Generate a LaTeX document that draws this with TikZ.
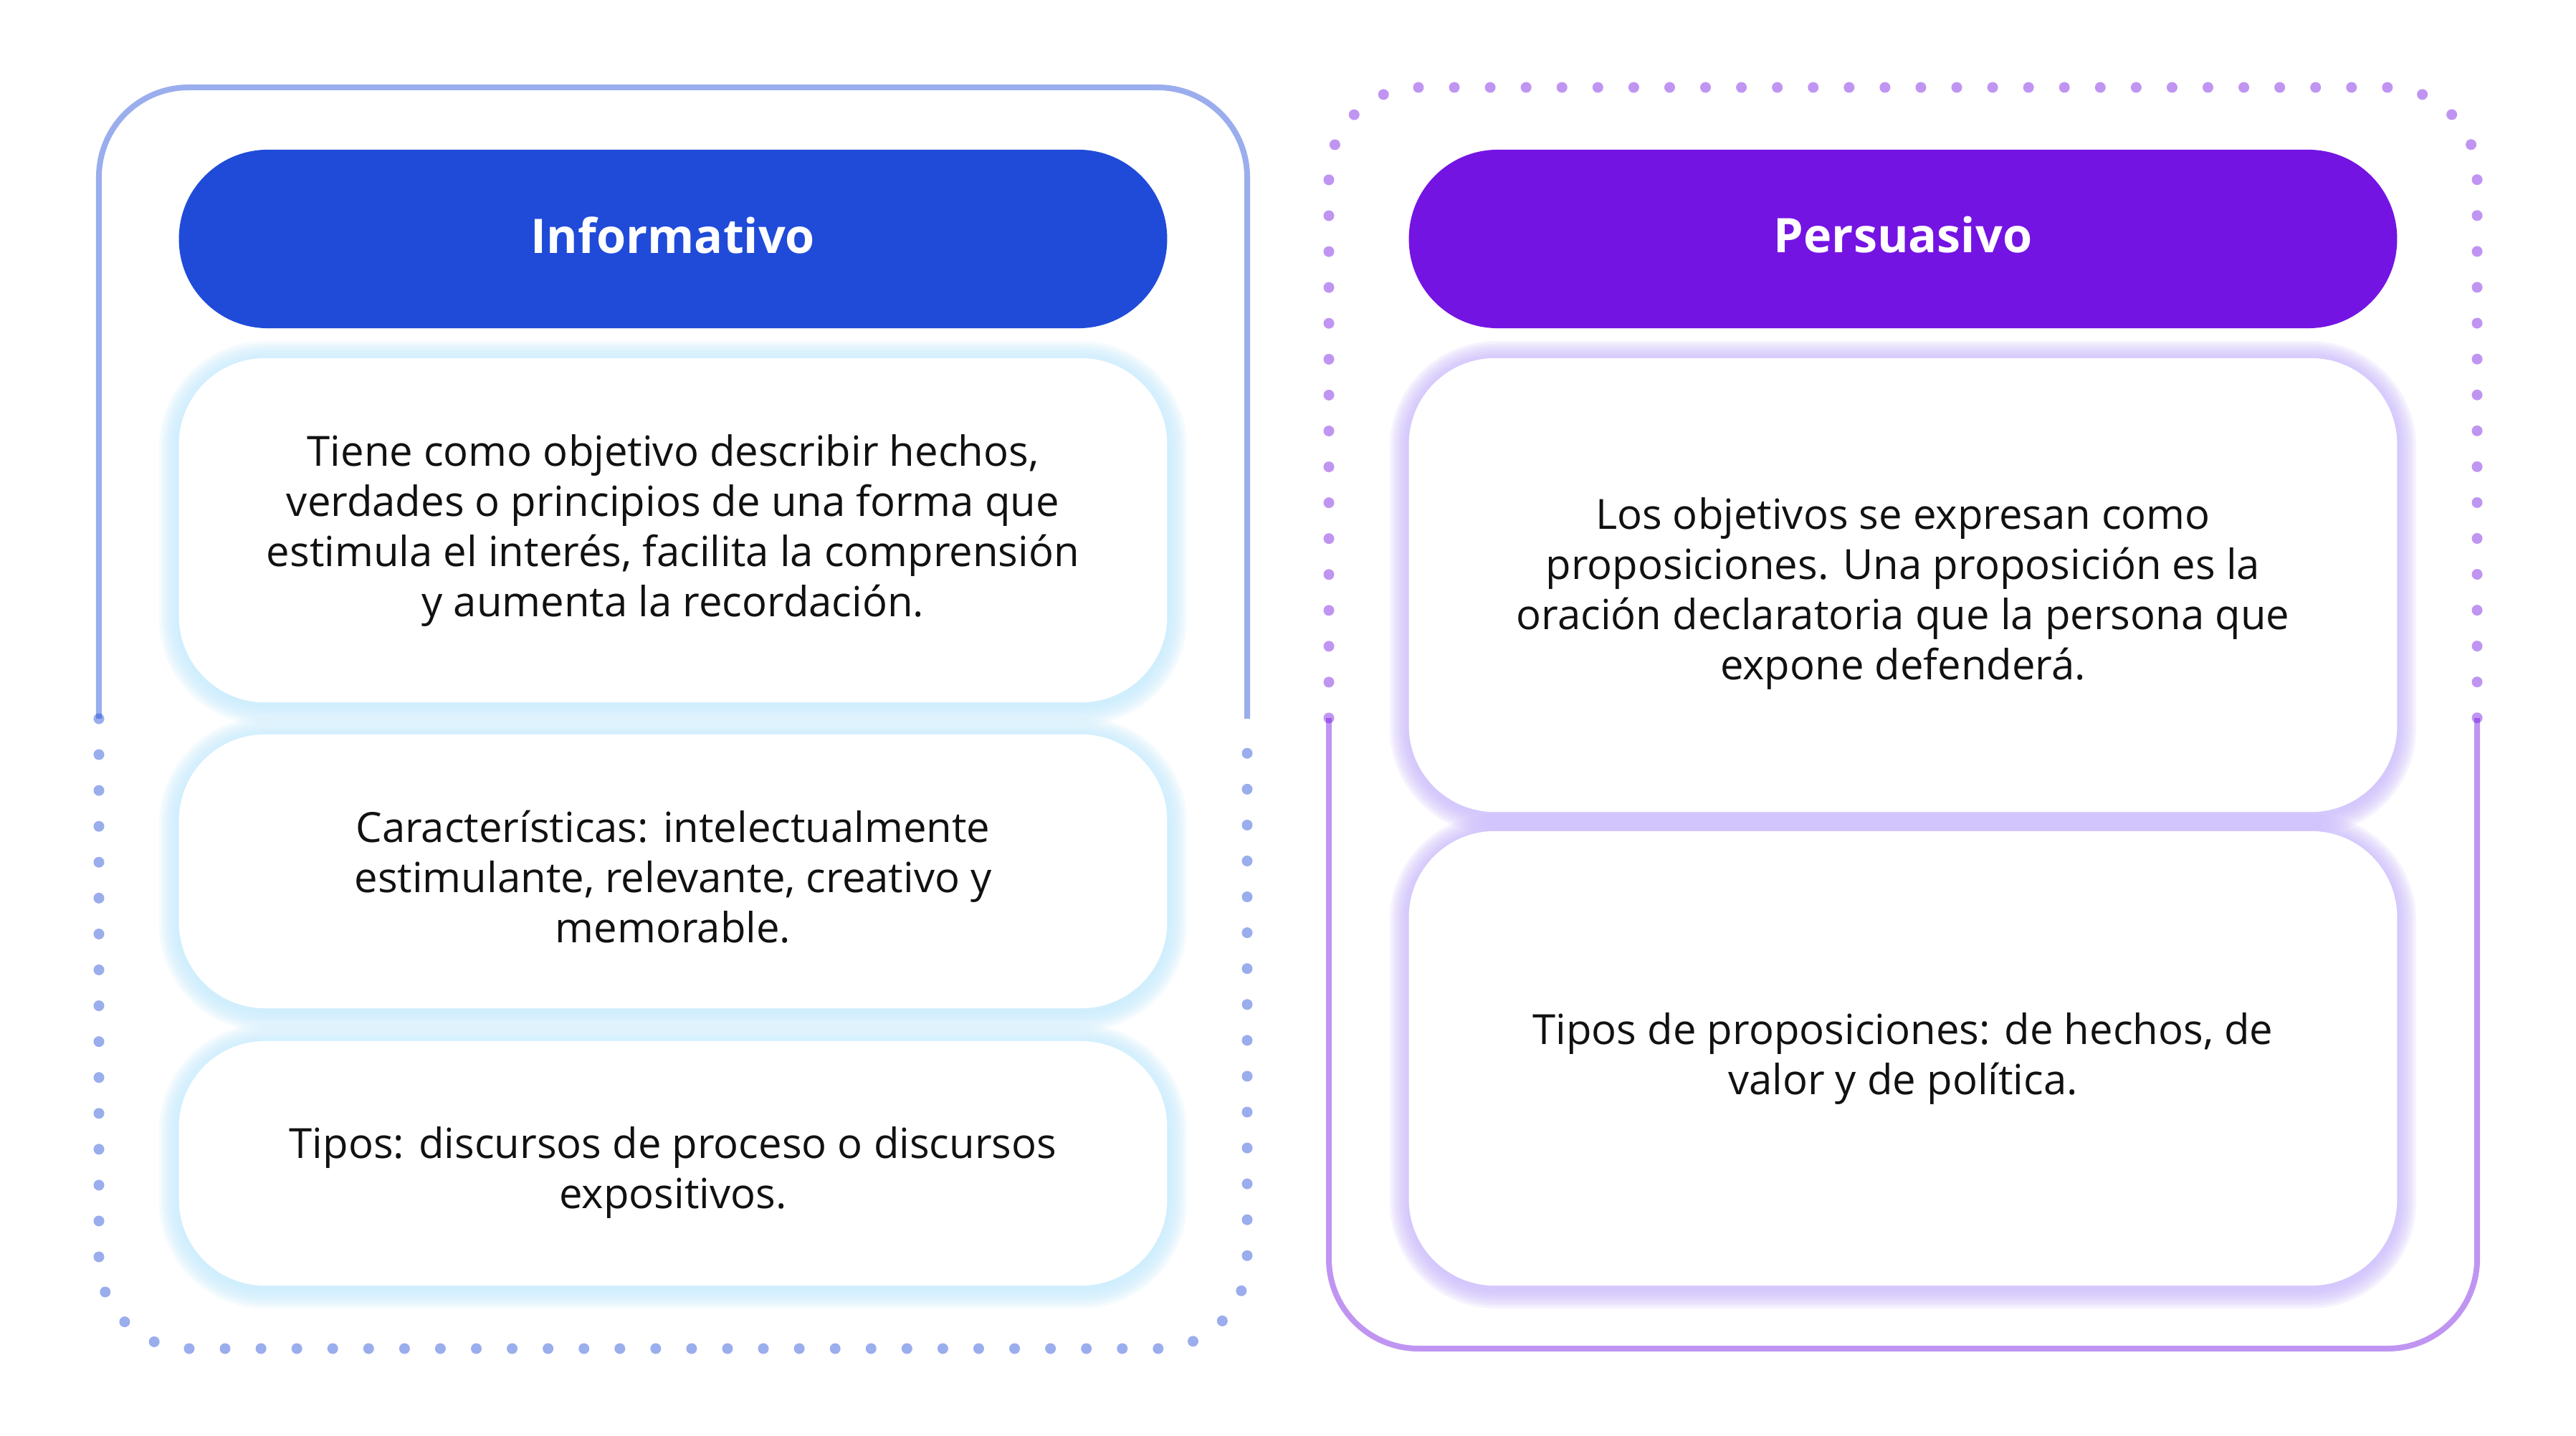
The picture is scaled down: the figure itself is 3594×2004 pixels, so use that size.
\documentclass[tikz,border=0pt]{standalone}
\usepackage{fontspec}
\setmainfont{Open Sans}
\definecolor{pblue}{HTML}{204BD9}
\definecolor{ppurple}{HTML}{7414E3}
\definecolor{glowblue}{HTML}{C6ECFD}
\definecolor{glowpurple}{HTML}{CBBBFC}
\definecolor{txt}{HTML}{111111}
\newcommand\myglow[5]{%
  \foreach \k in {1,...,8}{%
    \fill[#5, opacity=0.17, rounded corners={(1.2+0.035*\k)*1cm}]
      ({#1-3.5*\k},{#2-3.5*\k+4}) rectangle ({#3+3.5*\k},{#4+3.5*\k+4});}}
\begin{document}
\begin{tikzpicture}[x=0.01cm,y=-0.01cm,
  solidframe/.style={line width=0.08cm, draw opacity=0.45, rounded corners=1.25cm},
  dotframe/.style={line width=0.15cm, line cap=round, dash pattern=on 0pt off 0.5004cm, draw opacity=0.45, rounded corners=1.25cm},
  pill/.style={rectangle, rounded corners=1.24cm, minimum width=13.78cm, minimum height=2.49cm, inner sep=0pt},
  htext/.style={inner sep=0pt, text=white, font=\fontsize{18.9}{23}\selectfont\bfseries},
  cbox/.style={rectangle, rounded corners=1.2cm, fill=white, minimum width=13.78cm, inner sep=0pt},
  btext/.style={inner sep=0pt, align=center, text=txt, font=\fontsize{16.5}{19.9}\selectfont}]
\useasboundingbox (0,0) rectangle (3594,2004);
\fill[white] (0,0) rectangle (3594,2004);
% left frame
\draw[solidframe, pblue] (138,1003) -- (138,122) -- (1740,122) -- (1740,1003);
\draw[dotframe, pblue] (138,1003) -- (138,1882) -- (1740,1882) -- (1740,1003);
% right frame
\draw[dotframe, ppurple] (1854,1002) -- (1854,122) -- (3456,122) -- (3456,1002);
\draw[solidframe, ppurple] (1854,1002) -- (1854,1882) -- (3456,1882) -- (3456,1002);
% glows
\myglow{250}{500}{1628}{980}{glowblue}
\myglow{250}{1025}{1628}{1407}{glowblue}
\myglow{250}{1453}{1628}{1794}{glowblue}
\myglow{1967}{500}{3343}{1133}{glowpurple}
\myglow{1967}{1160}{3343}{1794}{glowpurple}
% boxes
\node[cbox, minimum height=4.8cm] (i1) at (939,740) {};
\node[cbox, minimum height=3.82cm] (i2) at (939,1216) {};
\node[cbox, minimum height=3.41cm] (i3) at (939,1623.5) {};
\node[cbox, minimum height=6.33cm] (p1) at (2655,816.5) {};
\node[cbox, minimum height=6.34cm] (p2) at (2655,1477) {};
\node[btext] (i1t) at (939,740) {Tiene como objetivo describir hechos,\\ verdades o principios de una forma que\\ estimula el interés, facilita la comprensión\\ y aumenta la recordación.};
\node[btext] (i2t) at (939,1224) {Características: intelectualmente\\ estimulante, relevante, creativo y\\ memorable.};
\node[btext] (i3t) at (939,1636) {Tipos: discursos de proceso o discursos\\ expositivos.};
\node[btext] (p1t) at (2655,828) {Los objetivos se expresan como\\ proposiciones. Una proposición es la\\ oración declaratoria que la persona que\\ expone defenderá.};
\node[btext] (p2t) at (2655,1477) {Tipos de proposiciones: de hechos, de\\ valor y de política.};
% headers
\node[pill, fill=pblue] (hinf) at (939,333.5) {};
\node[pill, fill=ppurple] (hper) at (2655,333.5) {};
\node[htext] (hinft) at (939,328) {Informativo};
\node[htext] (hpert) at (2655,328) {Persuasivo};
\end{tikzpicture}
\end{document}
